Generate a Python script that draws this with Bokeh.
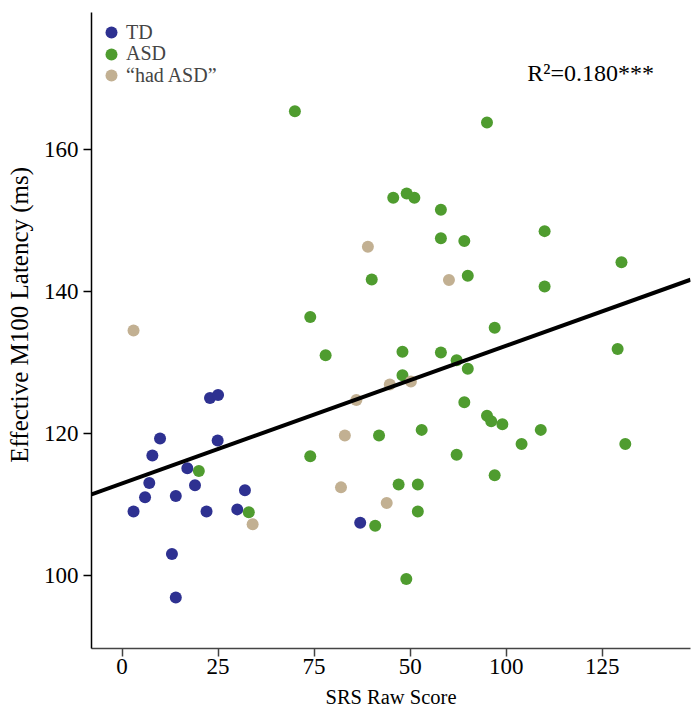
from bokeh.plotting import figure
from bokeh.models import Range1d, FixedTicker, Legend, LegendItem, Label
from bokeh.embed import file_html
from bokeh.resources import INLINE

# ---- data ----
td_x = [3.0, 6.0, 7.1, 7.9, 9.9, 13.0, 14.0, 14.0, 17.0, 19.0, 22.0, 22.9, 25.0, 24.9, 30.0, 32.0, 62.0]
td_y = [109.0, 111.0, 113.0, 116.9, 119.3, 103.0, 111.2, 96.9, 115.1, 112.7, 109.0, 125.0, 125.4, 119.0, 109.3, 112.0, 107.4]

asd_x = [45.0, 49.0, 53.0, 65.0, 95.0, 70.6, 74.1, 76.1, 83.0, 83.0, 89.1, 110.0, 130.0, 90.0,
         110.0, 97.0, 73.0, 83.0, 129.0, 20.0, 33.0, 66.9, 49.0, 65.9, 73.0, 87.1, 90.0, 89.1,
         95.0, 96.1, 99.0, 109.0, 131.0, 104.0, 78.0, 87.1, 97.0, 72.0, 77.0, 77.0, 74.0]
asd_y = [165.4, 136.4, 131.0, 141.7, 163.8, 153.2, 153.8, 153.2, 151.5, 147.5, 147.1, 148.5, 144.1, 142.2,
         140.7, 134.9, 131.5, 131.4, 131.9, 114.7, 108.9, 119.7, 116.8, 107.0, 128.2, 130.3, 129.1, 124.4,
         122.5, 121.7, 121.3, 120.5, 118.5, 118.5, 120.5, 117.0, 114.1, 112.8, 112.8, 109.0, 99.5]

had_x = [3.0, 64.0, 85.1, 61.0, 69.7, 75.2, 58.0, 57.0, 68.9, 34.0]
had_y = [134.5, 146.3, 141.6, 124.7, 126.9, 127.3, 119.7, 112.4, 110.2, 107.2]

group_names = ["TD", "ASD", "\u201chad ASD\u201d"]
x_ticks = [0, 25, 50, 75, 100, 125]
x_tick_labels = ["0", "25", "75", "50", "100", "125"]
y_ticks = [100, 120, 140, 160]
fit_intercept = 112.95
fit_slope = 0.194
r2_text = "R\u00b2=0.180***"
x_title = "SRS Raw Score"
y_title = "Effective M100 Latency (ms)"

X_MIN, X_MAX = -7.94, 147.97
Y_MIN, Y_MAX = 89.7, 179.3

C_TD = "#2e3191"
C_ASD = "#4f9c2f"
C_HAD = "#c2b092"
FONT = "Liberation Serif"

p = figure(width=693, height=710, output_backend="svg", toolbar_location=None,
           x_range=Range1d(X_MIN, X_MAX), y_range=Range1d(Y_MIN, Y_MAX),
           min_border_left=91, min_border_right=3, min_border_top=12, min_border_bottom=62)
p.outline_line_color = None
p.grid.visible = False
p.background_fill_color = "white"
p.border_fill_color = "white"

r_td = p.scatter(td_x, td_y, size=12, fill_color=C_TD, line_color=None)
r_asd = p.scatter(asd_x, asd_y, size=12, fill_color=C_ASD, line_color=None)
r_had = p.scatter(had_x, had_y, size=12, fill_color=C_HAD, line_color=None)

p.line([X_MIN, X_MAX], [fit_intercept + fit_slope * X_MIN, fit_intercept + fit_slope * X_MAX],
       line_color="black", line_width=4)

# axes
p.xaxis.ticker = FixedTicker(ticks=x_ticks)
p.xaxis.major_label_overrides = {t: l for t, l in zip(x_ticks, x_tick_labels)}
p.yaxis.ticker = FixedTicker(ticks=y_ticks)
for ax in (p.xaxis, p.yaxis):
    ax.minor_tick_line_color = None
    ax.major_tick_in = 0
    ax.major_tick_out = 8
    ax.major_tick_line_width = 1.5
    ax.axis_line_width = 1.5
    ax.major_label_text_font = FONT
    ax.major_label_text_font_size = "23px"
    ax.major_label_text_color = "black"
    ax.axis_label_text_font = FONT
    ax.axis_label_text_font_style = "normal"
    ax.axis_label_text_color = "black"
p.xaxis.major_label_standoff = 2
p.yaxis.major_label_standoff = 5
p.xaxis.axis_line_color = "#444444"
p.xaxis.major_tick_line_color = "#444444"
p.yaxis.axis_line_color = "black"
p.yaxis.major_tick_line_color = "black"
p.xaxis.axis_label = x_title
p.xaxis.axis_label_text_font_size = "20.5px"
p.xaxis.axis_label_standoff = 9
# leading no-break spaces nudge the rotated title upward, as in the reference
p.yaxis.axis_label = "\u00a0" * 5 + y_title
p.yaxis.axis_label_text_font_size = "25px"
p.yaxis.axis_label_standoff = 8

# legend: one single-item legend per group so the rows sit close together
rows = [(r_td, 601), (r_asd, 579.5), (r_had, 558)]
for name, (rend, vy) in zip(group_names, rows):
    lg = Legend(items=[LegendItem(label=name, renderers=[rend])],
                location=(5, vy), glyph_width=30, glyph_height=30,
                padding=0, margin=0, label_standoff=0,
                border_line_color=None, background_fill_alpha=0,
                label_text_font=FONT, label_text_font_size="20px")
    p.add_layout(lg)

p.add_layout(Label(x=105.5, y=170.8, text=r2_text, text_font=FONT, text_font_size="24px",
                   text_color="black", text_baseline="alphabetic"))

open("out.html", "w").write(file_html(p, INLINE))
